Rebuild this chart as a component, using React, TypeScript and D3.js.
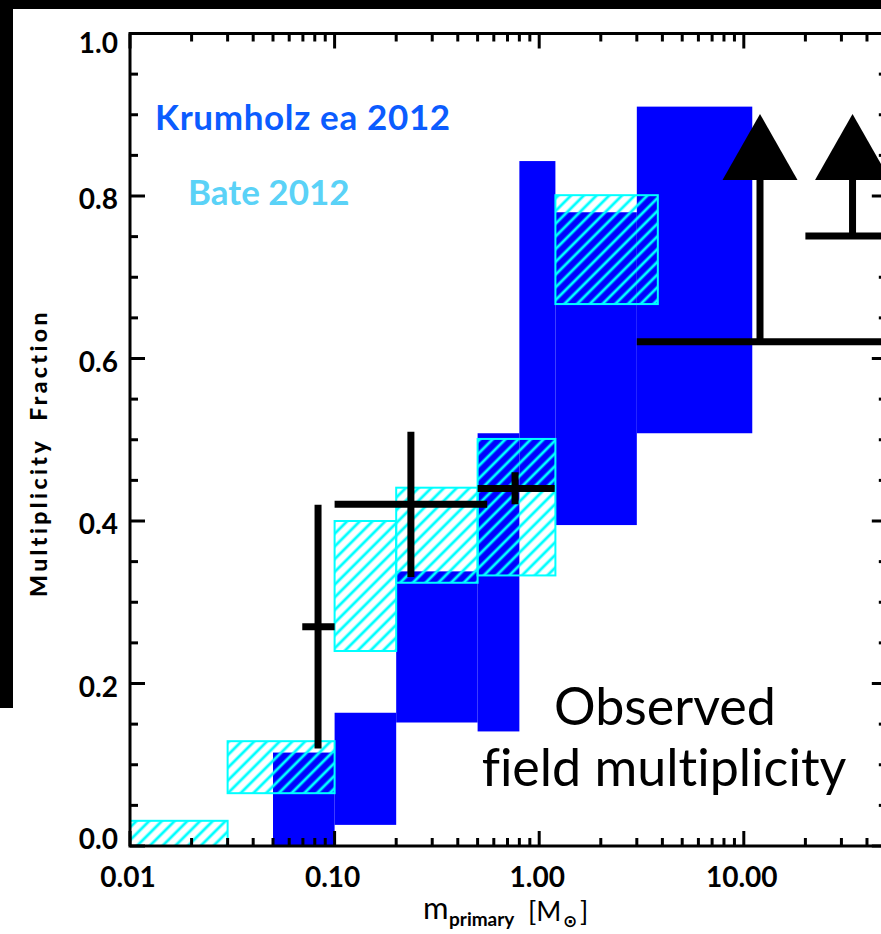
import React from "react";
import * as d3 from "d3";

// Krumholz et al. 2012 (filled blue pieces)
const krumLo = [0.05, 0.1, 0.2, 0.5, 0.8, 1.2, 3];
const krumHi = [0.1, 0.2, 0.5, 0.8, 1.2, 3, 11];
const krumMin = [0.0, 0.026, 0.152, 0.141, 0.436, 0.395, 0.508];
const krumMax = [0.115, 0.164, 0.338, 0.508, 0.843, 0.78, 0.91];

// Bate 2012 (hatched cyan boxes)
const bateLo = [0.01, 0.03, 0.1, 0.2, 0.5, 1.2];
const bateHi = [0.03, 0.1, 0.2, 0.5, 1.2, 3.8];
const bateMin = [0.0, 0.065, 0.24, 0.324, 0.333, 0.667];
const bateMax = [0.031, 0.129, 0.4, 0.441, 0.501, 0.801];

// Observed field multiplicity
const obsMass = [0.083, 0.236, 0.762];
const obsMassLo = [0.0695, 0.1, 0.5];
const obsMassHi = [0.1, 0.557, 1.19];
const obsFrac = [0.27, 0.4206, 0.44];
const obsFracLo = [0.12, 0.331, 0.4206];
const obsFracHi = [0.42, 0.51, 0.46];

// Lower limits (arrows)
const limMass = [12, 34];
const limMassLo = [3, 20];
const limMassHi = [100, 100];
const limFrac = [0.6207, 0.7508];
const limTip = [0.901, 0.901];

const yTicks = [0, 0.2, 0.4, 0.6, 0.8, 1.0];
const yTickLabels = ["0.0", "0.2", "0.4", "0.6", "0.8", "1.0"];
const yMinor = [0.05, 0.1, 0.15, 0.25, 0.3, 0.35, 0.45, 0.5, 0.55, 0.65, 0.7, 0.75, 0.85, 0.9, 0.95];
const xTicks = [0.01, 0.1, 1, 10];
const xTickLabels = ["0.01", "0.10", "1.00", "10.00"];

const W = 881;
const H = 934;
const FONT = "Lato, 'Open Sans', 'DejaVu Sans', sans-serif";

export default function App() {
  const x = d3.scaleLog().domain([0.01, 50]).range([130, 130 + 204.6 * Math.log10(5000)]);
  const y = d3.scaleLinear().domain([0, 1]).range([846, 33.5]);
  const [x0, x1] = x.range();
  const [y0, y1] = y.range();

  const xMinor: number[] = [];
  [0.01, 0.1, 1, 10].forEach((d) => {
    for (let k = 2; k <= 9; k++) {
      const v = d * k;
      if (v <= 50) xMinor.push(v);
    }
  });

  const blue = "#0000ff";
  const cyan = "#00ffff";
  const triH = 66;
  const triW = 75;

  return (
    <svg
      width={W}
      height={H}
      style={{ position: "absolute", left: 0, top: 0, background: "#fff", fontVariantLigatures: "none" }}
      fontFamily={FONT}
    >
      <defs>
        <pattern id="hatch" patternUnits="userSpaceOnUse" width={9} height={9} patternTransform="rotate(45)">
          <line x1={2} y1={-2} x2={2} y2={12} stroke={cyan} strokeWidth={2.8} />
        </pattern>
        <clipPath id="plot">
          <rect x={x0} y={y1} width={x1 - x0} height={y0 - y1} />
        </clipPath>
      </defs>
      <rect x={0} y={0} width={W} height={H} fill="#fff" />
      <rect x={0} y={0} width={W} height={9} fill="#000" />
      <rect x={0} y={0} width={13} height={708} fill="#000" />

      <g clipPath="url(#plot)">
        {krumLo.map((lo, i) => (
          <rect
            key={"k" + i}
            x={x(lo)}
            y={y(krumMax[i])}
            width={x(krumHi[i]) - x(lo)}
            height={y(krumMin[i]) - y(krumMax[i])}
            fill={blue}
          />
        ))}
        {bateLo.map((lo, i) => (
          <rect
            key={"b" + i}
            x={x(lo)}
            y={y(bateMax[i])}
            width={x(bateHi[i]) - x(lo)}
            height={y(bateMin[i]) - y(bateMax[i])}
            fill="url(#hatch)"
            stroke={cyan}
            strokeWidth={2}
          />
        ))}
        {obsMass.map((m, i) => (
          <g key={"o" + i} stroke="#000" strokeWidth={7}>
            <line x1={x(obsMassLo[i])} x2={x(obsMassHi[i])} y1={y(obsFrac[i])} y2={y(obsFrac[i])} />
            <line x1={x(m)} x2={x(m)} y1={y(obsFracLo[i])} y2={y(obsFracHi[i])} />
          </g>
        ))}
        {limMass.map((m, i) => {
          const tipY = y(limTip[i]);
          const baseY = tipY + triH;
          const cx = x(m);
          return (
            <g key={"l" + i}>
              <line x1={x(limMassLo[i])} x2={x(limMassHi[i])} y1={y(limFrac[i])} y2={y(limFrac[i])} stroke="#000" strokeWidth={7} />
              <line x1={cx} x2={cx} y1={y(limFrac[i]) + 3} y2={baseY} stroke="#000" strokeWidth={7} />
              <path d={`M${cx},${tipY}L${cx + triW / 2},${baseY}L${cx - triW / 2},${baseY}Z`} fill="#000" />
            </g>
          );
        })}
      </g>

      {/* axes */}
      <g stroke="#000" strokeWidth={3} fill="none">
        <rect x={x0} y={y1} width={x1 - x0} height={y0 - y1} />
        {yTicks.map((v) => (
          <g key={"yt" + v}>
            <line x1={x0} x2={x0 + 15} y1={y(v)} y2={y(v)} />
            <line x1={x1} x2={x1 - 15} y1={y(v)} y2={y(v)} />
          </g>
        ))}
        {yMinor.map((v) => (
          <g key={"ym" + v}>
            <line x1={x0} x2={x0 + 8} y1={y(v)} y2={y(v)} />
            <line x1={x1} x2={x1 - 8} y1={y(v)} y2={y(v)} />
          </g>
        ))}
        {xTicks.map((v) => (
          <g key={"xt" + v}>
            <line x1={x(v)} x2={x(v)} y1={y0} y2={y0 - 15} />
            <line x1={x(v)} x2={x(v)} y1={y1} y2={y1 + 15} />
          </g>
        ))}
        {xMinor.map((v) => (
          <g key={"xm" + v}>
            <line x1={x(v)} x2={x(v)} y1={y0} y2={y0 - 8} />
            <line x1={x(v)} x2={x(v)} y1={y1} y2={y1 + 8} />
          </g>
        ))}
      </g>

      {yTicks.map((v, i) => (
        <text
          key={"yl" + v}
          x={118}
          y={Math.min(Math.max(y(v) + 2, 42), 838)}
          textAnchor="end"
          dominantBaseline="central"
          fontSize={28}
          fontWeight="bold"
          fill="#000"
        >
          {yTickLabels[i]}
        </text>
      ))}
      {xTicks.map((v, i) => (
        <text key={"xl" + v} x={x(v) - 2} y={887} textAnchor="middle" fontSize={28} fontWeight="bold" fill="#000">
          {xTickLabels[i]}
        </text>
      ))}

      <g fill="#000">
        <text x={423} y={919} fontSize={31}>m</text>
        <text x={449} y={926} fontSize={19} fontWeight="bold">primary</text>
        <text x={528} y={921} fontSize={27}>[M</text>
        <text x={563} y={927} fontSize={17} fontWeight="bold" fontFamily="'DejaVu Sans', sans-serif">⊙</text>
        <text x={580} y={921} fontSize={27}>]</text>
      </g>

      <text
        transform="translate(47,453) rotate(-90)"
        textAnchor="middle"
        fontSize={23}
        fontWeight={900}
        letterSpacing={3.4}
        fill="#000"
        style={{ whiteSpace: "pre" }}
      >
        {"Multiplicity  Fraction"}
      </text>

      <text x={155} y={130} fontSize={35} fontWeight="bold" letterSpacing={0.65} fill="#0b5cff">
        Krumholz ea 2012
      </text>
      <text x={188} y={205} fontSize={35} fontWeight="bold" fill="#5ad2f7">
        Bate 2012
      </text>

      <text x={665} y={725} textAnchor="middle" fontSize={52} fill="#000">
        Observed
      </text>
      <text x={664} y={786} textAnchor="middle" fontSize={52} fill="#000">
        field multiplicity
      </text>
    </svg>
  );
}
